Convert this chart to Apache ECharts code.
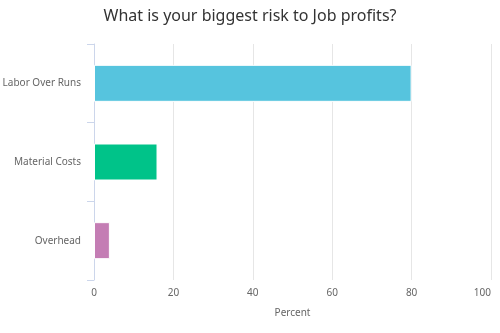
<!DOCTYPE html>
<html>
<head>
<meta charset="utf-8">
<script src="https://cdn.jsdelivr.net/npm/echarts@6/dist/echarts.min.js"></script>
<style>
  html, body { margin: 0; padding: 0; background: #fff; }
  #chart { width: 500px; height: 333px; }
</style>
</head>
<body>
<div id="chart"></div>
<script>
// Survey answers and their share of responses (percent)
const categories = ['Labor Over Runs', 'Material Costs', 'Overhead'];
const values = [80, 16, 4];
const barColors = ['#56c4de', '#00c389', '#c47db4'];
const xTicks = [0, 20, 40, 60, 80, 100];

const font = 'Noto Sans';
const chart = echarts.init(document.getElementById('chart'));

chart.setOption({
  animation: false,
  title: {
    text: 'What is your biggest risk to Job profits?',
    left: 'center',
    top: 3,
    textStyle: { fontFamily: font, fontSize: 16, fontWeight: 'normal', color: '#333333' }
  },
  grid: { left: 94, right: 9, top: 44, bottom: 53, outerBoundsMode: 'none', containLabel: false },
  xAxis: {
    type: 'value',
    min: xTicks[0],
    max: xTicks[xTicks.length - 1],
    interval: 20,
    name: 'Percent',
    nameLocation: 'middle',
    nameGap: 28,
    nameTextStyle: { fontFamily: font, fontSize: 10, color: '#666666' },
    axisLine: { show: false },
    axisTick: { show: false },
    axisLabel: { fontFamily: font, fontSize: 10, color: '#666666', margin: 8, alignMaxLabel: 'right' },
    splitLine: { show: true, lineStyle: { color: '#e6e6e6', width: 1 } }
  },
  yAxis: {
    type: 'category',
    data: categories,
    inverse: true,
    axisLine: { show: true, lineStyle: { color: '#ccd6eb', width: 1 } },
    axisTick: { show: true, length: 7, lineStyle: { color: '#ccd6eb' } },
    axisLabel: { fontFamily: font, fontSize: 10, color: '#666666', margin: 13 }
  },
  series: [{
    type: 'bar',
    data: values.map((v, i) => ({ value: v, itemStyle: { color: barColors[i] } })),
    barWidth: 37,
    itemStyle: { borderColor: '#ffffff', borderWidth: 1 }
  }]
});
</script>
</body>
</html>
